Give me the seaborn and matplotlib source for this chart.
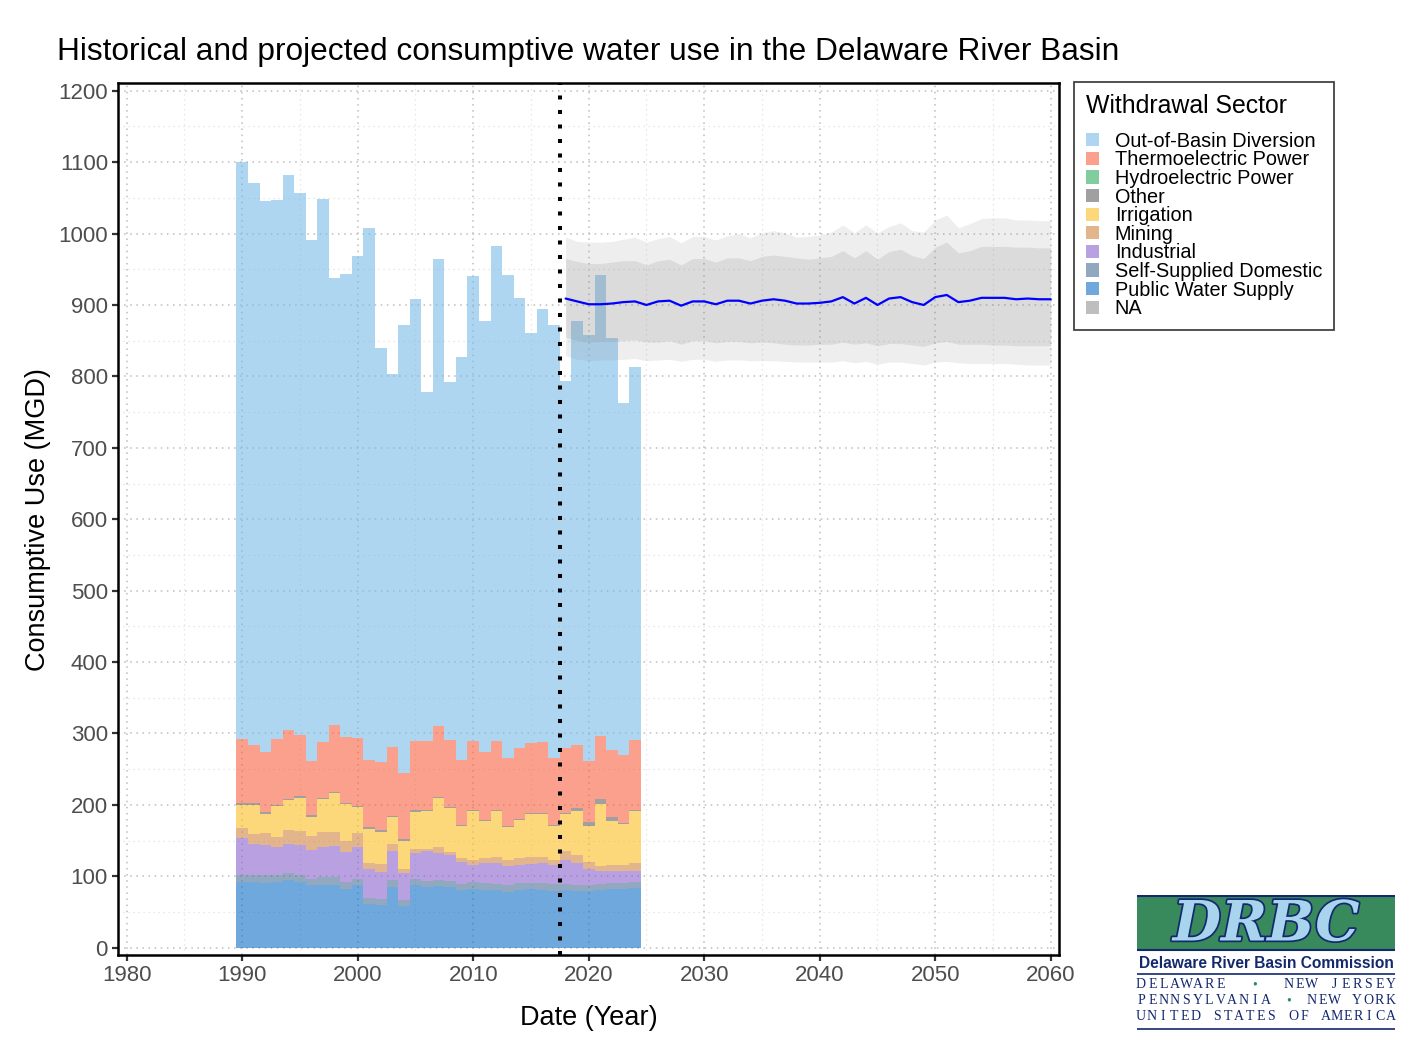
import numpy as np
import pandas as pd
import matplotlib
matplotlib.use("Agg")
import matplotlib.pyplot as plt
import matplotlib.patheffects as pe
from matplotlib.patches import Patch, Rectangle
import seaborn as sns

# === Data: historical consumptive use by sector (MGD), 1990-2024
years = list(range(1990, 2025))

public_water = [91.6, 92.5, 91.1, 92.5, 95.3, 91.6, 87.8, 88.3, 88.3, 81.8,
                87.4, 60.8, 59.4, 85.0, 58.0, 87.4, 85.0, 86.9, 85.0, 80.4,
                82.2, 81.3, 80.4, 78.5, 80.8, 81.8, 81.3, 79.4, 80.4, 79.0,
                79.0, 80.4, 81.8, 81.8, 83.2]
domestic = [9.8, 9.8, 10.3, 9.8, 9.8, 9.8, 8.9, 10.3, 10.3, 9.8,
            9.3, 8.4, 9.3, 10.3, 9.3, 8.8, 8.0, 8.4, 8.0, 9.3,
            9.4, 9.3, 9.3, 9.8, 9.4, 9.3, 8.9, 9.4, 9.3, 9.3,
            9.3, 9.3, 9.3, 9.3, 9.3]
industrial = [52.7, 43.4, 42.3, 38.3, 40.6, 42.4, 40.6, 42.9, 44.3, 42.9,
              44.8, 41.0, 36.8, 39.7, 37.3, 36.0, 42.0, 37.8, 36.4, 30.8,
              24.7, 28.5, 29.4, 25.7, 26.1, 26.6, 28.9, 26.6, 33.6, 30.8,
              22.4, 18.2, 16.8, 15.9, 15.4]
mining = [14.0, 14.0, 16.3, 14.9, 19.6, 20.1, 19.6, 20.5, 19.6, 15.4,
          19.6, 8.9, 11.2, 10.7, 5.2, 6.5, 3.7, 8.4, 5.1, 4.7,
          7.0, 7.0, 8.4, 9.3, 8.9, 8.9, 8.4, 7.9, 11.7, 11.2,
          9.8, 7.0, 8.4, 9.3, 11.2]
irrigation = [32.0, 40.4, 27.4, 42.3, 40.9, 46.0, 26.0, 45.6, 53.5, 50.7,
              35.3, 47.0, 45.2, 36.7, 39.5, 51.2, 52.1, 67.5, 60.5, 44.6,
              67.5, 50.7, 63.3, 45.1, 53.0, 60.0, 59.1, 46.5, 51.6, 61.3,
              50.4, 86.8, 61.6, 56.3, 71.7]
other = [2.5, 2.5, 2.5, 2.5, 2.5, 2.5, 2.5, 2.5, 2.5, 2.5,
         2.5, 2.5, 2.5, 2.5, 2.5, 2.5, 2.5, 2.5, 2.5, 2.5,
         2.5, 2.5, 2.5, 2.5, 2.5, 2.5, 2.5, 2.5, 2.5, 4.5,
         5.6, 7.0, 5.6, 2.5, 2.5]
thermo = [90.1, 81.7, 84.0, 91.9, 96.6, 85.9, 76.5, 77.9, 93.8, 92.4,
          95.2, 94.7, 95.2, 96.1, 93.3, 97.5, 96.6, 99.4, 93.8, 91.0,
          96.6, 94.7, 96.6, 95.2, 99.4, 98.0, 98.9, 93.8, 90.5, 88.2,
          85.4, 88.2, 93.8, 95.2, 98.0]
out_of_basin = [807, 787, 772, 755, 776, 758, 729, 761, 625, 648,
                675, 745, 580, 522, 627, 618, 488, 654, 501, 564,
                650, 603, 693, 676, 630, 574, 607, 606, 514, 593,
                596, 645, 577, 492, 522]

# === Data: projection 2018-2060 (median + two uncertainty bands)
proj_years = list(range(2018, 2061))
proj_mid = [909, 905, 901, 901, 902, 904, 905, 900, 905, 906, 899, 905, 905,
            901, 906, 906, 902, 906, 908, 906, 902, 902,
            903, 905, 911, 902, 910, 900, 909, 911, 904, 900, 911, 914, 904,
            906, 910, 910, 910, 908, 909, 908, 908]
inner_hi = [965, 961, 958, 958, 960, 962, 962, 956, 962, 964, 956, 965, 965,
            960, 966, 966, 962, 968, 970, 968, 966, 964,
            966, 968, 976, 966, 976, 964, 975, 978, 969, 965, 981, 988, 973,
            976, 982, 982, 982, 981, 981, 980, 980]
inner_lo = [855, 850, 848, 849, 849, 850, 851, 848, 848, 850, 845, 850, 850,
            847, 849, 849, 847, 848, 847, 845, 844, 844,
            845, 845, 848, 845, 847, 843, 846, 846, 844, 842, 847, 849, 845,
            845, 845, 844, 844, 843, 843, 843, 843]
outer_hi = [995, 989, 988, 988, 989, 992, 995, 988, 993, 996, 987, 996, 996,
            991, 997, 1000, 994, 1001, 1004, 1001, 995, 996,
            998, 1002, 1012, 1001, 1012, 1001, 1010, 1015, 1004, 1002, 1019,
            1026, 1008, 1014, 1021, 1022, 1022, 1019, 1019, 1018, 1018]
outer_lo = [829, 824, 822, 823, 823, 824, 825, 822, 823, 824, 821, 824, 824,
            821, 823, 823, 822, 822, 822, 821, 820, 820,
            820, 820, 822, 819, 821, 817, 820, 820, 818, 816, 820, 821, 819,
            818, 818, 818, 818, 817, 816, 816, 816]

sectors = ["Out-of-Basin Diversion", "Thermoelectric Power", "Hydroelectric Power",
           "Other", "Irrigation", "Mining", "Industrial",
           "Self-Supplied Domestic", "Public Water Supply", "NA"]
colors = ["#78BBE8", "#F86141", "#2FAC61", "#616161", "#FCBE21",
          "#CF8441", "#8A61CD", "#486E93", "#0F6EC5", "#939393"]
palette = dict(zip(sectors, colors))
bar_alpha = 0.6

series = {
    "Out-of-Basin Diversion": out_of_basin,
    "Thermoelectric Power": thermo,
    "Other": other,
    "Irrigation": irrigation,
    "Mining": mining,
    "Industrial": industrial,
    "Self-Supplied Domestic": domestic,
    "Public Water Supply": public_water,
}
df = pd.concat([pd.DataFrame({"year": years, "sector": k, "mgd": v})
                for k, v in series.items()], ignore_index=True)
hue_order = [s for s in sectors if s in series]

# === Style
sns.set_style("white")
plt.rcParams["font.family"] = ["Liberation Sans", "DejaVu Sans"]
plt.rcParams["text.color"] = "black"

fig = plt.figure(figsize=(14.28, 10.61), dpi=100)
ax = fig.add_axes([117.7 / 1428, 1 - 955 / 1061, 941.6 / 1428, 871.7 / 1061])

# === Historical stacked bars
sns.histplot(data=df, x="year", weights="mgd", hue="sector", hue_order=hue_order,
             multiple="stack", discrete=True, palette=palette, alpha=bar_alpha,
             linewidth=0, legend=False, ax=ax, zorder=2)

# === Projection ribbons and median
ax.fill_between(proj_years, outer_lo, outer_hi, color="grey", alpha=0.13,
                linewidth=0, zorder=3)
ax.fill_between(proj_years, inner_lo, inner_hi, color="grey", alpha=0.17,
                linewidth=0, zorder=3)
sns.lineplot(x=proj_years, y=proj_mid, color="blue", linewidth=1.6, ax=ax, zorder=4)

ax.axvline(2017.5, color="black", linestyle=(0, (1, 2.6)), linewidth=2.9, zorder=5)

# === Axes
ax.set_xlim(1979.22, 2060.74)
ax.set_ylim(-10.2, 1210.4)
ax.set_xticks(range(1980, 2061, 10))
ax.set_xticks(range(1985, 2060, 10), minor=True)
ax.set_yticks(range(0, 1201, 100))
ax.set_yticks(range(50, 1200, 100), minor=True)
ax.grid(which="major", color="#BDBDBD", linestyle=(0, (1, 3)), linewidth=1.1, zorder=0)
ax.grid(which="minor", color="#E0E0E0", linestyle=(0, (1, 3)), linewidth=0.9, zorder=0)
ax.set_axisbelow(True)
for sp in ax.spines.values():
    sp.set_visible(True)
    sp.set_color("black")
    sp.set_linewidth(1.8)
ax.tick_params(which="major", direction="out", length=4, width=1.6, color="#333333",
               labelsize=16, labelcolor="#4D4D4D", pad=3, left=True, bottom=True)
ax.tick_params(which="minor", length=0)

ax.set_xlabel("Date (Year)", fontsize=19.5, labelpad=14, color="black")
ax.set_ylabel("Consumptive Use (MGD)", fontsize=19.5, labelpad=5, color="black")
fig.text(57 / 1428, 1 - 52 / 1061, "Historical and projected consumptive water use in the Delaware River Basin",
         fontsize=22.8, ha="left", va="center", color="black")

# === Legend
handles = [Patch(facecolor=palette[s], alpha=bar_alpha, edgecolor="none") for s in sectors]
leg = fig.legend(handles, sectors, title="Withdrawal Sector", loc="upper left",
                 bbox_to_anchor=(1074 / 1428, 1 - 82 / 1061), frameon=True,
                 fancybox=False, edgecolor="black", fontsize=14.3, title_fontsize=17.9,
                 handlelength=0.65, handleheight=0.65, labelspacing=-0.02,
                 handletextpad=0.8, borderpad=0.6, borderaxespad=0, alignment="left")
leg.get_frame().set_linewidth(1.2)
leg._legend_box.sep = 10

# === DRBC logo
lax = fig.add_axes([1137 / 1428, 1 - 1031 / 1061, 258 / 1428, 136 / 1061])
lax.set_xlim(0, 258)
lax.set_ylim(136, 0)
lax.axis("off")
navy = "#14286E"
lax.add_patch(Rectangle((0, 1), 258, 54, facecolor="#38895C", edgecolor="none"))
lax.plot([0, 258], [1, 1], color=navy, lw=1.5)
lax.plot([0, 258], [55, 55], color=navy, lw=1.5)
lax.text(129, 30, "DRBC", fontsize=40, family="DejaVu Serif", style="italic",
         fontweight="bold", color="#A8D4EE", ha="center", va="center",
         path_effects=[pe.withStroke(linewidth=2.5, foreground=navy)])
lax.text(129, 68, "Delaware River Basin Commission", fontsize=11.2, fontweight="bold",
         color=navy, ha="center", va="center")
lax.plot([0, 258], [79, 79], color=navy, lw=1.2)
lax.plot([0, 258], [134, 134], color=navy, lw=1.2)


def spaced(text, y, x0=4, x1=254, size=10, color=navy):
    n = len(text)
    for i, ch in enumerate(text):
        x = x0 + (x1 - x0) * i / (n - 1)
        c = "#2E8B57" if ch == "•" else color
        lax.text(x, y, ch, fontsize=size, family="Liberation Serif", color=c,
                 ha="center", va="center")


spaced("DELAWARE  •  NEW JERSEY", 90)
spaced("PENNSYLVANIA • NEW YORK", 106)
spaced("UNITED STATES OF AMERICA", 122)

fig.savefig("out.png", dpi=100)
